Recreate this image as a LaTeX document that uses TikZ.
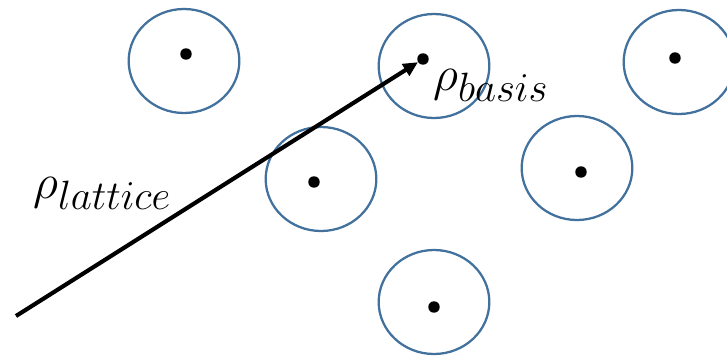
\documentclass[tikz,border=0pt]{standalone}
\usepackage{amsmath}
\usepackage{graphicx}
\usepackage{tikz}
\usetikzlibrary{arrows.meta,shapes.geometric}
\definecolor{siteblue}{RGB}{65,113,156}
\newcommand{\biglabel}[1]{\scalebox{1.48}{$#1$}}

\begin{document}
\begin{tikzpicture}[
  x=0.75pt, y=-0.75pt,
  >={Triangle[length=11pt,width=10pt]},
  site/.style={ellipse, draw=siteblue, line width=1.7pt, inner sep=0pt,
    minimum width=83pt, minimum height=78pt},
  atom/.style={circle, fill=black, inner sep=0pt, minimum size=8.6pt},
  vec/.style={->, line width=3.1pt},
  label/.style={font=\fontsize{24.88}{30}\selectfont, inner sep=0pt}
]
  \useasboundingbox (0,0) rectangle (727,357);
  % lattice sites with one basis atom each
  \foreach \n/\cx/\cy/\dx/\dy in {
      a/184/61/186/54, b/434/66/423/59, c/679/62/675/58,
      d/321/179/314/182, e/577/168/581/172, f/434/302/434/307} {
    \node[site] (\n) at (\cx,\cy) {};
    \node[atom] (dot-\n) at (\dx,\dy) {};
  }
  \coordinate (origin) at (16,316);
  \draw[vec] (origin) -- (dot-b);
  \node[label, anchor=base west] (lat) at (33,198) {\biglabel{\rho_{lattice}}};
  \node[label, anchor=base west] (bas) at (433,90) {\biglabel{\rho_{basis}}};
\end{tikzpicture}
\end{document}
